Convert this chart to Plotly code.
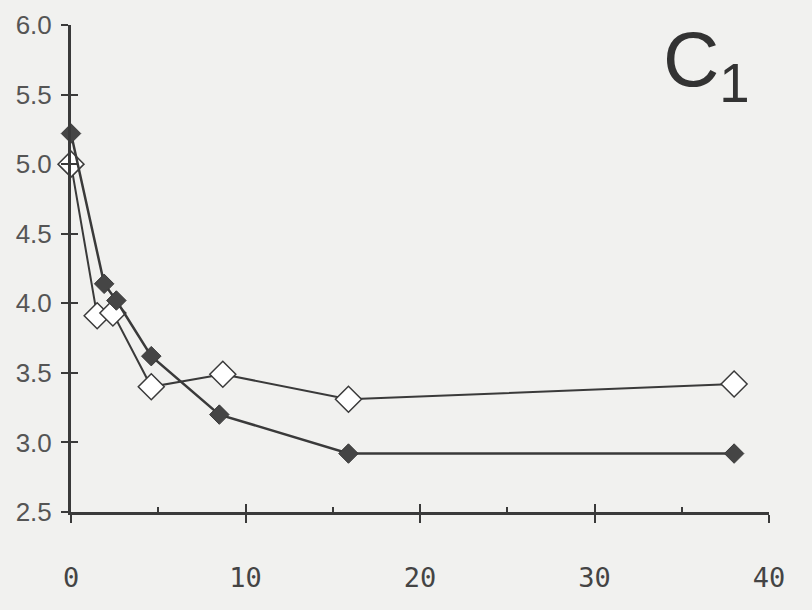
import plotly.graph_objects as go

x_filled = [0, 1.9, 2.6, 4.6, 8.5, 15.9, 38]
y_filled = [5.22, 4.14, 4.02, 3.62, 3.20, 2.92, 2.92]
x_open = [0, 1.5, 2.4, 4.6, 8.7, 15.9, 38]
y_open = [5.00, 3.91, 3.93, 3.40, 3.49, 3.31, 3.42]
x_ticks = [0, 10, 20, 30, 40]
x_minor = [5, 15, 25, 35]
y_ticks = [2.5, 3.0, 3.5, 4.0, 4.5, 5.0, 5.5, 6.0]
y_tick_text = ["2.5", "3.0", "3.5", "4.0", "4.5", "5.0", "5.5", "6.0"]
label = "C<sub>1</sub>"

ink = "#3a3a3a"
bg = "#f1f1ef"

fig = go.Figure()
fig.add_trace(go.Scatter(
    x=x_open, y=y_open, mode="lines+markers", cliponaxis=False,
    line=dict(color=ink, width=2),
    marker=dict(symbol="diamond", size=20, color="white", line=dict(color=ink, width=1.5)),
    showlegend=False))
fig.add_trace(go.Scatter(
    x=x_filled, y=y_filled, mode="lines+markers", cliponaxis=False,
    line=dict(color=ink, width=2.5),
    marker=dict(symbol="diamond", size=15, color="#454545", line=dict(color=ink, width=1)),
    showlegend=False))
fig.add_trace(go.Scatter(x=[0], y=[2.5], xaxis="x2", yaxis="y2", mode="markers",
                         marker=dict(opacity=0), showlegend=False, hoverinfo="skip"))

fig.update_layout(
    width=812, height=610,
    margin=dict(l=71, r=43, t=25, b=98),
    paper_bgcolor=bg, plot_bgcolor=bg,
    xaxis=dict(range=[0, 40], tickvals=x_ticks, ticktext=[str(v) for v in x_ticks],
               showgrid=False, zeroline=False, showline=True, linecolor=ink, linewidth=3,
               ticks="outside", ticklen=8, tickwidth=2, tickcolor=ink,
               ticklabelstandoff=32, automargin=False,
               tickfont=dict(family="DejaVu Sans Mono", size=27, color="#444")),
    yaxis=dict(range=[2.5, 6.0], tickvals=y_ticks, ticktext=y_tick_text,
               showgrid=False, zeroline=False, showline=True, linecolor=ink, linewidth=3,
               ticks="outside", ticklen=7, tickwidth=2, tickcolor=ink, automargin=False,
               ticklabelstandoff=4,
               tickfont=dict(family="Liberation Sans", size=26, color="#555")),
    xaxis2=dict(range=[0, 40], overlaying="x", side="bottom",
                tickvals=x_ticks[1:], showticklabels=False,
                ticks="inside", ticklen=8, tickwidth=2, tickcolor=ink,
                minor=dict(tickvals=x_minor, ticks="inside", ticklen=5, tickwidth=2, tickcolor=ink),
                showgrid=False, zeroline=False, showline=False, automargin=False),
    yaxis2=dict(range=[2.5, 6.0], overlaying="y", side="left", tickvals=y_ticks,
                showticklabels=False, ticks="inside", ticklen=7, tickwidth=2, tickcolor=ink,
                showgrid=False, zeroline=False, showline=False, automargin=False),
    annotations=[dict(text=label, xref="paper", yref="paper", x=0.911, y=0.918,
                      xanchor="center", yanchor="middle", showarrow=False,
                      font=dict(family="Liberation Sans", size=78, color="#333"))],
)
fig.write_html("out.html", config={"displayModeBar": False},
               post_script="document.body.style.margin='0';document.body.style.background='%s';" % bg)
